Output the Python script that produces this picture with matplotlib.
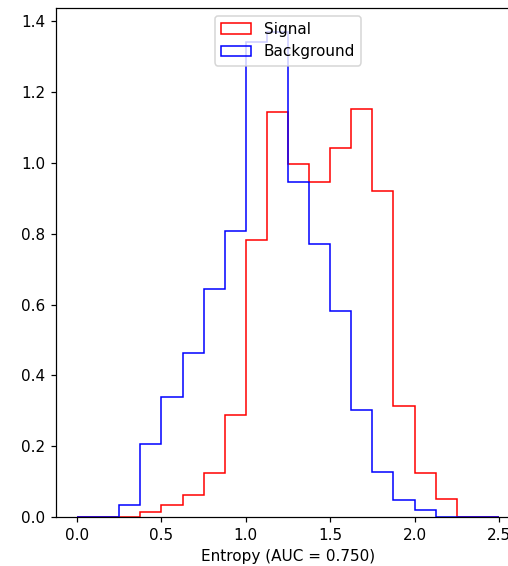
import numpy as np
import matplotlib
matplotlib.use("Agg")
import matplotlib.pyplot as plt

# bin edges 0..2.5 step 0.125 (20 bins)
bin_edges = np.linspace(0, 2.5, 21)

# density values per bin
signal_density = [0.0, 0.0, 0.0, 0.015, 0.034, 0.062, 0.123, 0.288, 0.781, 1.144,
                  0.998, 0.946, 1.043, 1.152, 0.921, 0.313, 0.125, 0.052, 0.0, 0.0]
background_density = [0.0, 0.0, 0.034, 0.206, 0.340, 0.464, 0.645, 0.809, 1.341, 1.369,
                      0.946, 0.770, 0.582, 0.302, 0.128, 0.048, 0.020, 0.0, 0.0, 0.0]
auc = 0.750

centers = (bin_edges[:-1] + bin_edges[1:]) / 2

DPI = 110
fig = plt.figure(figsize=(508 / DPI, 566 / DPI), dpi=DPI)
# axes runs past the right edge of the saved picture, as in the original
ax = fig.add_axes([56 / 508, 49 / 566, 464 / 508, 509 / 566])
ax.hist(centers, bins=bin_edges, weights=signal_density, histtype="step",
        color="red", label="Signal")
ax.hist(centers, bins=bin_edges, weights=background_density, histtype="step",
        color="blue", label="Background")
ax.set_xlabel(f"Entropy (AUC = {auc:.3f})")
ax.legend(loc="upper center")

fig.savefig("out.png", dpi=DPI)
